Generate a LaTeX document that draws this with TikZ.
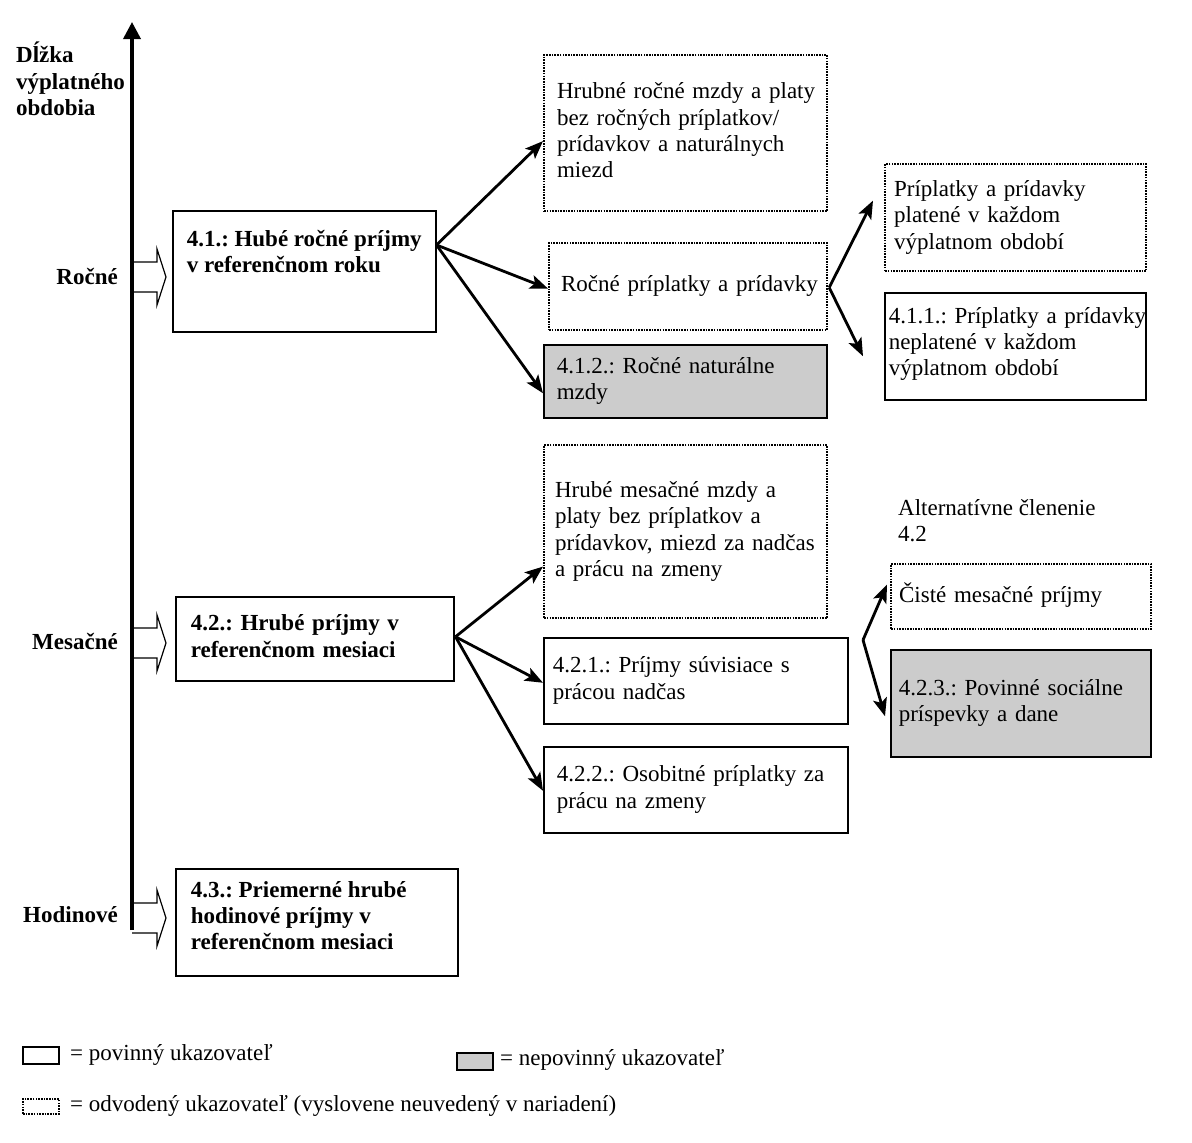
\documentclass[tikz,border=0pt]{standalone}
\usepackage{fontspec}
\setmainfont{Liberation Serif}
\usetikzlibrary{arrows.meta,calc}
\newcommand{\bxlines}[1]{\begin{tabular}{@{}l@{}}#1\end{tabular}}
\frenchspacing
\begin{document}
\begin{tikzpicture}[x=1pt,y=-1pt,
  every node/.style={font=\fontsize{23}{26.3}\selectfont\frenchspacing},
  bx/.style={draw, line width=1.5pt, anchor=north west, align=left, inner ysep=0pt},
  dbx/.style={bx, dash pattern=on 1.6pt off 1.1pt, line width=2.2pt},
  sbx/.style={bx, fill=black!20},
  arr/.style={line width=2.8pt, -{Stealth[length=18pt,width=14pt,inset=4pt]}},
  blk/.style={draw, line width=1.2pt, fill=white},
  lbl/.style={font=\fontsize{23}{26.3}\selectfont\bfseries\frenchspacing, inner sep=0pt},
  axis/.style={line width=3.5pt, -{Triangle[length=17pt,width=17pt]}},
]
\useasboundingbox (0,0) rectangle (1192,1143);

% axis label
\node[lbl, anchor=north west, align=left] (axl) at (16,42) {Dĺžka\\výplatného\\obdobia};

% block arrows
\foreach \c in {277,643,918}{
  \draw[blk] (132,\c-15) -- (157,\c-15) -- (157,\c-28) -- (166,\c) -- (157,\c+28) -- (157,\c+15) -- (132,\c+15);
}
% axis
\coordinate (axb) at (132,930);
\coordinate (axt) at (132,22);
\draw[axis] (axb) -- (axt);

\node[lbl, anchor=east] (lr) at (118,277) {Ročné};
\node[lbl, anchor=east] (lm) at (118,641) {Mesačné};
\node[lbl, anchor=east] (lh) at (118,915) {Hodinové};

% main boxes
\node[bx, inner xsep=14pt, inner ysep=0pt] (n41) at (172,210)
  {\parbox[c][121pt][t]{235pt}{\vspace*{17pt}\bfseries\strut 4.1.: Hubé ročné príjmy\\v referenčnom roku}};
\node[bx, inner xsep=15pt, text width=248pt, minimum height=84pt, font=\fontsize{23}{26.3}\selectfont\bfseries\frenchspacing] (n42) at (175,596)
  {\bxlines{4.2.: Hrubé príjmy v\\referenčnom mesiaci}};
\node[bx, inner xsep=15pt, inner ysep=0pt] (n43) at (175,868)
  {\parbox[c][107pt][t]{252pt}{\vspace*{10pt}\bfseries\strut 4.3.: Priemerné hrubé\\hodinové príjmy v\\referenčnom mesiaci}};

% annual branch
\node[dbx, inner xsep=13pt, text width=257pt, minimum height=156pt] (a1) at (543,54)
  {\bxlines{Hrubné ročné mzdy a platy\\bez ročných príplatkov/\\prídavkov a naturálnych\\miezd}};
\node[dbx, inner xsep=12pt, text width=254pt, minimum height=87pt] (a2) at (548,242)
  {\bxlines{Ročné príplatky a prídavky}};
\node[sbx, inner xsep=13pt, text width=257pt, minimum height=73pt] (a3) at (543,344)
  {\bxlines{4.1.2.: Ročné naturálne\\mzdy}};
\node[dbx, inner xsep=9pt, text width=243pt, minimum height=107pt] (b1) at (884,163)
  {\bxlines{Príplatky a prídavky\\platené v každom\\výplatnom období}};
\node[bx, inner xsep=4pt, text width=253pt, minimum height=107pt] (b2) at (884,292)
  {\bxlines{4.1.1.: Príplatky a prídavky\\neplatené v každom\\výplatnom období\\[4pt]}};

% monthly branch
\node[dbx, inner xsep=11pt, text width=261pt, minimum height=173pt] (c1) at (543,444)
  {\bxlines{Hrubé mesačné mzdy a\\platy bez príplatkov a\\prídavkov, miezd za nadčas\\a prácu na zmeny}};
\node[bx, inner xsep=9pt, text width=286pt, minimum height=86pt] (c2) at (543,637)
  {\bxlines{4.2.1.: Príjmy súvisiace s\\prácou nadčas}};
\node[bx, inner xsep=13pt, text width=278pt, minimum height=86pt] (c3) at (543,746)
  {\bxlines{4.2.2.: Osobitné príplatky za\\prácu na zmeny}};

\node[anchor=north west, align=left, inner sep=0pt] (alt) at (898,499)
  {Alternatívne členenie\\4.2};
\node[dbx, inner xsep=8pt, text width=244pt, minimum height=65pt] (d1) at (890,563)
  {\bxlines{Čisté mesačné príjmy}};
\node[sbx, inner xsep=8pt, text width=244pt, minimum height=107pt] (d2) at (890,649)
  {\bxlines{4.2.3.: Povinné sociálne\\príspevky a dane}};

% connectors
\coordinate (s41) at ([yshift=-35pt]n41.north east);
\draw[arr] (s41) -- ([yshift=-8pt]a1.west);
\draw[arr] (s41) -- ([yshift=-2pt]a2.west);
\draw[arr] (s41) -- ([yshift=-12pt]a3.west);
\coordinate (sa2) at ([xshift=1pt,yshift=-1pt]a2.east);
\draw[arr] (sa2) -- ([xshift=-11pt,yshift=17pt]b1.west);
\draw[arr] (sa2) -- ([xshift=-21pt,yshift=-10pt]b2.west);
\coordinate (s42) at ([xshift=1pt,yshift=2pt]n42.east);
\draw[arr] (s42) -- ([yshift=-35pt]c1.west);
\draw[arr] (s42) -- ([yshift=-2pt]c2.west);
\draw[arr] (s42) -- ([yshift=-1pt]c3.west);
\coordinate (sd) at (863,640);
\draw[arr] (sd) -- ([xshift=-3pt,yshift=12pt]d1.west);
\draw[arr] (sd) -- ([xshift=-5pt,yshift=-13pt]d2.west);

% legend
\node[draw, line width=1.5pt, minimum width=36pt, minimum height=17pt, anchor=north west, inner sep=0pt] (lg1) at (22,1046) {};
\node[anchor=west, inner sep=0pt] (lt1) at (70,1055) {= povinný ukazovateľ};
\node[draw, line width=1.5pt, fill=black!20, minimum width=36pt, minimum height=17pt, anchor=north west, inner sep=0pt] (lg2) at (456,1052) {};
\node[anchor=west, inner sep=0pt] (lt2) at (500,1060) {= nepovinný ukazovateľ};
\node[draw, dash pattern=on 1.6pt off 1.1pt, line width=2pt, minimum width=36pt, minimum height=15pt, anchor=north west, inner sep=0pt] (lg3) at (22,1098) {};
\node[anchor=west, inner sep=0pt] (lt3) at (70,1106) {= odvodený ukazovateľ (vyslovene neuvedený v nariadení)};
\end{tikzpicture}
\end{document}
